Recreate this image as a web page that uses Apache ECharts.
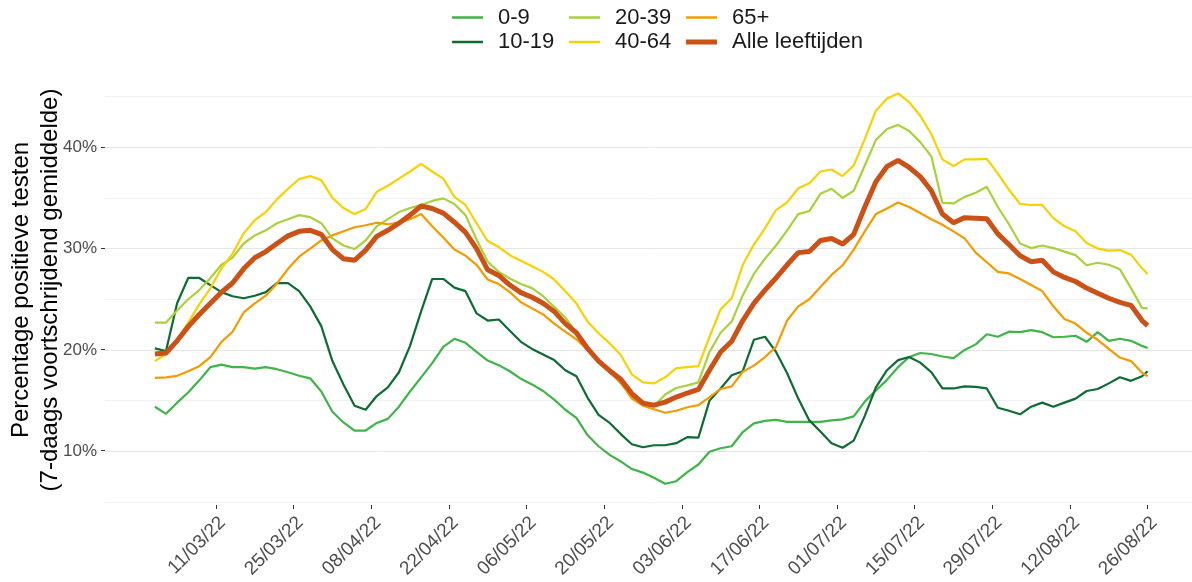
<!DOCTYPE html>
<html>
<head>
<meta charset="utf-8">
<script src="https://cdn.jsdelivr.net/npm/echarts@6/dist/echarts.min.js"></script>
<style>
  html, body { margin: 0; padding: 0; background: #fff; }
  #mainChart { width: 1192px; height: 582px; }
</style>
</head>
<body>
<div id="mainChart"></div>
<script>
// tick labels on the date axis (every 14 days)
const tickLabels = ['11/03/22', '25/03/22', '08/04/22', '22/04/22', '06/05/22', '20/05/22', '03/06/22',
  '17/06/22', '01/07/22', '15/07/22', '29/07/22', '12/08/22', '26/08/22'];

// first data day is 28/02/22, values read every 2 days, last one on 26/08/22
const firstDay = Date.UTC(2022, 1, 28);
const sampleDays = Array.from({length: 90}, (_, i) => i * 2).concat([179]);

const age0_9 = [14.4, 13.7, 14.8, 15.8, 17.0, 18.3, 18.55, 18.3, 18.3, 18.15, 18.3, 18.1, 17.8, 17.45, 17.2, 15.9,
  13.9, 12.85, 12.05, 12.05, 12.8, 13.2, 14.4, 15.9, 17.3, 18.7, 20.3, 21.1, 20.7, 19.8, 18.95, 18.5, 17.9, 17.15,
  16.6, 15.95, 15.1, 14.1, 13.3, 11.6, 10.5, 9.65, 9.0, 8.25, 7.9, 7.4, 6.8, 7.05, 7.95, 8.7, 9.95, 10.3, 10.5,
  11.9, 12.75, 13.0, 13.1, 12.9, 12.9, 12.9, 12.9, 13.05, 13.15, 13.45, 14.9, 16.0, 17.05, 18.3, 19.3, 19.7, 19.6,
  19.35, 19.2, 20.0, 20.55, 21.55, 21.3, 21.8, 21.75, 21.95, 21.75, 21.25, 21.3, 21.4, 20.8, 21.75, 20.9, 21.1,
  20.9, 20.4, 20.2];
const age10_19 = [20.15, 19.9, 24.6, 27.1, 27.1, 26.4, 25.7, 25.3, 25.1, 25.35, 25.7, 26.6, 26.6, 25.8, 24.3, 22.35,
  18.9, 16.6, 14.5, 14.1, 15.45, 16.3, 17.8, 20.4, 23.8, 27.0, 27.0, 26.15, 25.8, 23.6, 22.9, 23.0, 21.9, 20.8,
  20.1, 19.55, 19.0, 18.0, 17.4, 15.3, 13.6, 12.8, 11.7, 10.7, 10.4, 10.6, 10.6, 10.8, 11.4, 11.35, 15.0, 16.2,
  17.5, 17.9, 21.0, 21.3, 19.8, 17.7, 15.2, 13.05, 11.95, 10.8, 10.35, 11.05, 13.5, 16.3, 18.0, 19.0, 19.3, 18.75,
  17.8, 16.2, 16.2, 16.4, 16.35, 16.2, 14.3, 14.0, 13.65, 14.4, 14.8, 14.4, 14.8, 15.2, 15.95, 16.15, 16.7, 17.3,
  16.95, 17.4, 17.9];
const age20_39 = [22.7, 22.7, 23.9, 25.0, 25.9, 27.1, 28.4, 29.1, 30.5, 31.3, 31.8, 32.5, 32.9, 33.3, 33.1, 32.5,
  31.0, 30.3, 29.95, 30.8, 32.2, 32.9, 33.6, 34.0, 34.3, 34.7, 34.95, 34.4, 33.3, 30.9, 28.7, 27.7, 27.05, 26.5,
  26.1, 25.3, 24.25, 23.2, 21.7, 20.2, 18.9, 17.9, 16.7, 15.4, 14.6, 14.45, 15.6, 16.25, 16.5, 16.8, 19.8, 21.7,
  22.8, 25.4, 27.5, 29.0, 30.3, 31.8, 33.4, 33.7, 35.4, 35.9, 35.0, 35.7, 38.2, 40.7, 41.8, 42.2, 41.6, 40.5, 39.1,
  34.5, 34.45, 35.1, 35.5, 36.1, 34.1, 32.4, 30.5, 30.05, 30.3, 30.05, 29.7, 29.35, 28.35, 28.6, 28.4, 27.95, 26.1,
  24.15, 24.1];
const age40_64 = [18.9, 19.6, 21.0, 22.7, 24.5, 26.1, 28.05, 29.5, 31.5, 32.8, 33.6, 34.85, 35.9, 36.85, 37.15, 36.75,
  35.0, 34.0, 33.4, 33.9, 35.6, 36.2, 36.9, 37.6, 38.35, 37.6, 36.9, 35.1, 34.3, 32.5, 30.75, 30.15, 29.35, 28.8,
  28.25, 27.7, 26.95, 25.8, 24.6, 22.8, 21.65, 20.65, 19.5, 17.6, 16.8, 16.7, 17.3, 18.2, 18.3, 18.4, 21.3, 24.0,
  25.1, 28.4, 30.4, 32.0, 33.8, 34.55, 35.95, 36.45, 37.6, 37.8, 37.15, 38.2, 40.8, 43.6, 44.8, 45.3, 44.45, 43.1,
  41.3, 38.8, 38.15, 38.8, 38.8, 38.85, 37.4, 35.8, 34.4, 34.3, 34.3, 33.0, 32.2, 31.7, 30.55, 30.0, 29.8, 29.85,
  29.4, 28.05, 27.5];
const age65plus = [17.25, 17.3, 17.45, 17.9, 18.4, 19.3, 20.8, 21.8, 23.7, 24.6, 25.35, 26.55, 28.0, 29.2, 30.0, 30.8,
  31.3, 31.7, 32.1, 32.3, 32.55, 32.4, 32.55, 32.9, 33.4, 32.2, 31.1, 29.9, 29.3, 28.4, 26.95, 26.5, 25.7, 24.7,
  24.1, 23.5, 22.6, 21.8, 21.05, 20.0, 18.8, 17.8, 16.8, 15.2, 14.5, 14.15, 13.8, 14.0, 14.35, 14.55, 15.35, 16.15,
  16.4, 17.85, 18.45, 19.3, 20.3, 22.9, 24.3, 25.0, 26.2, 27.4, 28.35, 29.9, 31.7, 33.4, 33.95, 34.55, 34.1, 33.5,
  32.9, 32.35, 31.7, 31.0, 29.6, 28.65, 27.7, 27.55, 27.0, 26.4, 25.8, 24.3, 23.05, 22.6, 21.7, 21.0, 20.1, 19.25,
  18.9, 17.75, 17.4];
const allAges = [19.6, 19.7, 20.9, 22.3, 23.5, 24.6, 25.7, 26.6, 28.0, 29.1, 29.7, 30.5, 31.25, 31.7, 31.8, 31.4,
  29.9, 29.0, 28.85, 29.85, 31.2, 31.8, 32.5, 33.3, 34.2, 33.95, 33.5, 32.6, 31.6, 30.0, 27.9, 27.35, 26.4, 25.65,
  25.2, 24.6, 23.8, 22.6, 21.7, 20.15, 18.9, 17.95, 17.1, 15.7, 14.75, 14.55, 14.85, 15.35, 15.75, 16.1, 18.0, 19.8,
  20.85, 22.9, 24.6, 25.9, 27.1, 28.4, 29.6, 29.7, 30.8, 31.0, 30.45, 31.4, 34.1, 36.6, 38.1, 38.7, 38.0, 37.1,
  35.7, 33.4, 32.55, 33.05, 33.0, 32.95, 31.45, 30.4, 29.3, 28.7, 28.85, 27.7, 27.15, 26.75, 26.1, 25.6, 25.1, 24.7,
  24.4, 22.9, 22.4];

const groups = ['0-9', '10-19', '20-39', '40-64', '65+', 'Alle leeftijden'];
const groupValues = [age0_9, age10_19, age20_39, age40_64, age65plus, allAges];
const groupColors = ['#3fb449', '#0d6b34', '#a8d13c', '#f8d100', '#f59b00', '#cb5116'];

const DAY = 86400000;
function fmt(t) {
  const d = new Date(t);
  const dd = String(d.getUTCDate()).padStart(2, '0');
  const mm = String(d.getUTCMonth() + 1).padStart(2, '0');
  return dd + '/' + mm + '/' + String(d.getUTCFullYear()).slice(2);
}

// category axis runs from 19/02/22 to 03/09/22 (padding either side of the data)
const axisStart = Date.UTC(2022, 1, 19);
const axisEnd = Date.UTC(2022, 8, 3);
const days = [];
for (let t = axisStart; t <= axisEnd; t += DAY) days.push(fmt(t));

const fontFamily = 'Liberation Sans, Arial, sans-serif';

const series = groups.map((name, g) => ({
  name: name,
  type: 'line',
  symbol: 'none',
  showSymbol: false,
  clip: false,
  z: g === 5 ? 5 : 2,
  color: groupColors[g],
  lineStyle: { width: g === 5 ? 5 : 2.2, color: groupColors[g] },
  data: groupValues[g].map((v, i) => [fmt(firstDay + sampleDays[i] * DAY), v])
}));

// flat bar icons for the legend keys (thicker one for all ages)
const thinKey = 'path://M0,0 L31,0 L31,2.5 L0,2.5 Z';
const thickKey = 'path://M0,0 L31,0 L31,5 L0,5 Z';
const legendItem = name => ({ name: name, icon: name === 'Alle leeftijden' ? thickKey : thinKey });

const legendBase = {
  orient: 'horizontal',
  left: 452,
  padding: 0,
  itemGap: 10,
  itemWidth: 31,
  itemHeight: 14,
  textStyle: { fontSize: 22, color: '#1a1a1a', fontFamily: fontFamily, padding: [0, 0, 0, 10], width: 61, lineHeight: 24 },
  selectedMode: false
};

var myChart = echarts.init(document.getElementById('mainChart'));
myChart.setOption({
  animation: false,
  backgroundColor: '#ffffff',
  textStyle: { fontFamily: fontFamily },
  legend: [
    Object.assign({}, legendBase, { top: 5.5, data: ['0-9', '20-39', '65+'].map(legendItem) }),
    Object.assign({}, legendBase, { top: 30, data: ['10-19', '40-64', 'Alle leeftijden'].map(legendItem) })
  ],
  graphic: [{
    type: 'text',
    x: 36,
    y: 290,
    rotation: Math.PI / 2,
    silent: true,
    style: {
      text: 'Percentage positieve testen\n(7-daags voortschrijdend gemiddelde)',
      fontSize: 24,
      lineHeight: 29,
      fontFamily: fontFamily,
      fill: '#000000',
      align: 'center',
      verticalAlign: 'middle'
    }
  }],
  grid: [
    { left: 105, right: 0, top: 96.5, bottom: 80, containLabel: false, outerBoundsMode: 'none' },
    // helper grid spanning 10%..40%, only used for the small y tick marks
    { left: 105, right: 0, top: 147.3, height: 303.4, containLabel: false, outerBoundsMode: 'none' }
  ],
  xAxis: [{
    type: 'category',
    gridIndex: 0,
    data: days,
    boundaryGap: false,
    offset: 3,
    axisLine: { show: false },
    axisTick: {
      show: true,
      length: 4,
      interval: (idx, value) => tickLabels.includes(value),
      lineStyle: { color: '#333333', width: 1 }
    },
    axisLabel: {
      interval: (idx, value) => tickLabels.includes(value),
      rotate: 45,
      margin: 8,
      verticalAlign: 'top',
      fontSize: 19,
      color: '#4d4d4d',
      fontFamily: fontFamily,
      hideOverlap: false,
      overflow: 'none'
    },
    splitLine: { show: false }
  }, {
    type: 'value',
    gridIndex: 1,
    show: false
  }],
  yAxis: [{
    type: 'value',
    gridIndex: 0,
    min: 5,
    max: 45,
    interval: 5,
    axisLine: { show: false },
    axisTick: { show: false },
    axisLabel: {
      margin: 8,
      fontSize: 17,
      color: '#4d4d4d',
      fontFamily: fontFamily,
      formatter: v => (v % 10 === 0 ? v + '%' : '')
    },
    splitLine: { show: true, lineStyle: { color: ['#f1f1f1', '#e6e6e6'], width: 1 } }
  }, {
    type: 'value',
    gridIndex: 1,
    min: 10,
    max: 40,
    interval: 10,
    axisLine: { show: false },
    axisTick: { show: true, length: 4, lineStyle: { color: '#333333', width: 1 } },
    axisLabel: { show: false },
    splitLine: { show: false }
  }],
  series: series
});
</script>
</body>
</html>
